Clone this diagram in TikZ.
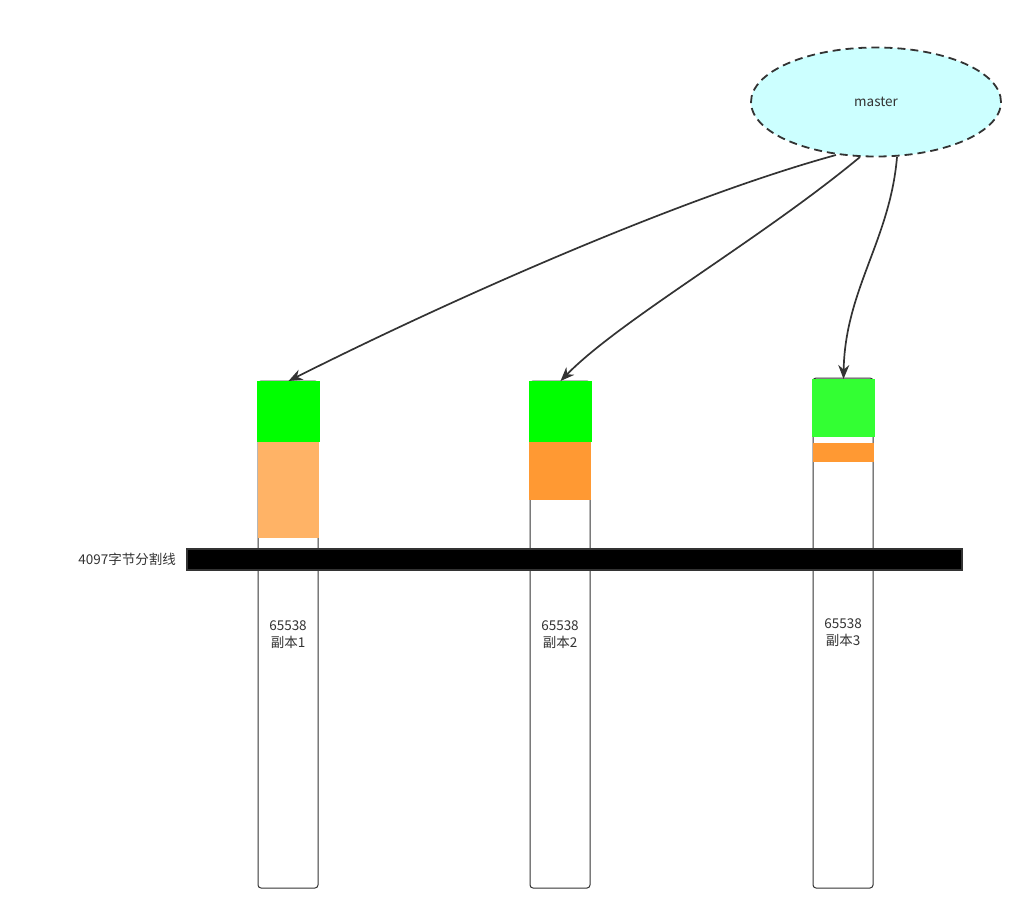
\documentclass[tikz,border=0pt]{standalone}
\usepackage{fontspec}
\setmainfont{Noto Sans CJK SC}
\usetikzlibrary{shapes.geometric,arrows.meta}
\definecolor{mcyan}{HTML}{CCFFFF}
\definecolor{g1}{HTML}{00FF00}
\definecolor{g3}{HTML}{33FF33}
\definecolor{o1}{HTML}{FFB366}
\definecolor{o2}{HTML}{FF9933}
\definecolor{lc}{HTML}{333333}
\tikzset{
  colbox/.style={draw=lc, line width=1pt, rounded corners=3pt, fill=white},
  blk/.style={inner sep=0pt, outer sep=0pt},
  conn/.style={draw=lc, line width=1.7pt, -{Stealth[length=14pt,width=11pt]}},
  lbl/.style={font=\fontsize{13.5}{17}\selectfont, text=lc, align=center, inner sep=0pt}
}
\begin{document}
\begin{tikzpicture}[x=1pt,y=-1pt]
\useasboundingbox (0,0) rectangle (1032,921);
% columns
\draw[colbox] (258,381) rectangle (318,888);
\draw[colbox] (530,381) rectangle (590,888);
\draw[colbox] (813,378) rectangle (873,888);
% blocks
\fill[o1] (258,442) rectangle (319,538);
\node[blk, fill=g1, minimum width=63pt, minimum height=61pt] (g1n) at (288.5,411.5) {};
\fill[o2] (529,442) rectangle (591,500);
\node[blk, fill=g1, minimum width=63pt, minimum height=61pt] (g2n) at (560.5,411.5) {};
\fill[o2] (813,443) rectangle (874,462);
\node[blk, fill=g3, minimum width=63pt, minimum height=58pt] (g3n) at (843.5,408) {};
% bar
\node[blk, draw=lc, line width=1.2pt, fill=black, minimum width=775pt, minimum height=21pt] (bar) at (574.5,559.5) {};
\node[lbl, anchor=east] (barlbl) at (176,559) {4097字节分割线};
% labels
\node[lbl] (t1) at (288,635) {65538\\副本1};
\node[lbl] (t2) at (560,635) {65538\\副本2};
\node[lbl] (t3) at (843,633) {65538\\副本3};
% master
\node[ellipse, draw=lc, dash pattern=on 8pt off 5pt, line width=1.8pt, fill=mcyan, minimum width=250pt, minimum height=109pt, inner sep=0pt] (m) at (876,102) {\fontsize{13.5}{16}\selectfont\color{lc}master};
% connectors
\coordinate (a1) at (836,155);
\coordinate (a2) at (860,157);
\coordinate (a3) at (897,157);
\draw[conn] (a1) .. controls (690,195) and (470,290) .. (g1n.north);
\draw[conn] (a2) .. controls (760,240) and (620,320) .. (g2n.north);
\draw[conn] (a3) .. controls (890,240) and (845,290) .. (g3n.north);
\end{tikzpicture}
\end{document}
